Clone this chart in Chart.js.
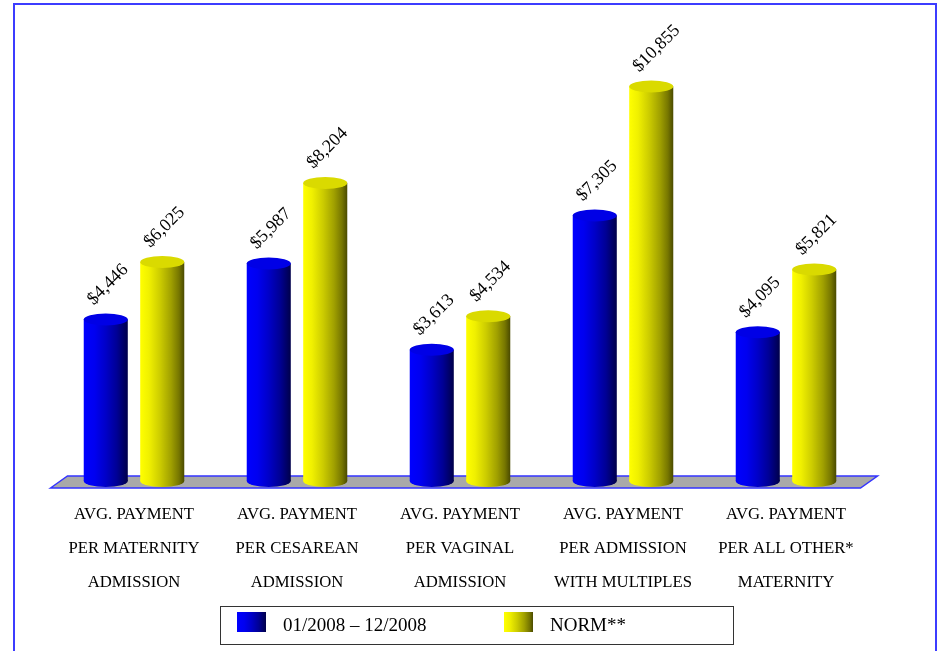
<!DOCTYPE html>
<html>
<head>
<meta charset="utf-8">
<script src="https://cdn.jsdelivr.net/npm/chart.js@4.4.1/dist/chart.umd.min.js"></script>
<style>
  html, body { margin: 0; padding: 0; background: #ffffff; }
  #wrap { width: 942px; height: 651px; position: relative; }
</style>
</head>
<body>
<div id="wrap"><canvas id="c" width="942" height="651"></canvas></div>
<script>
// ---- data ----
const categories = [
  ["AVG. PAYMENT", "PER MATERNITY", "ADMISSION"],
  ["AVG. PAYMENT", "PER CESAREAN", "ADMISSION"],
  ["AVG. PAYMENT", "PER VAGINAL", "ADMISSION"],
  ["AVG. PAYMENT", "PER ADMISSION", "WITH MULTIPLES"],
  ["AVG. PAYMENT", "PER ALL OTHER*", "MATERNITY"]
];
const seriesNames = ["01/2008 \u2013 12/2008", "NORM**"];
const period2008 = [4446, 5987, 3613, 7305, 4095];
const normValues = [6025, 8204, 4534, 10855, 5821];
const valueLabels2008 = ["$4,446", "$5,987", "$3,613", "$7,305", "$4,095"];
const valueLabelsNorm = ["$6,025", "$8,204", "$4,534", "$10,855", "$5,821"];

// ---- styling helpers ----
const SERIF = "'Liberation Serif', 'Times New Roman', serif";
const palettes = [
  { stops: [[0, '#0000ff'], [0.25, '#0000f0'], [0.5, '#0000c8'], [0.75, '#000095'], [1, '#00004a']], top: '#0000e6' },
  { stops: [[0, '#ffff00'], [0.2, '#f0f000'], [0.45, '#cccc00'], [0.7, '#a0a000'], [0.88, '#767600'], [1, '#4a4a00']], top: '#dada00' }
];
function hGrad(ctx, x0, x1, stops) {
  const g = ctx.createLinearGradient(x0, 0, x1, 0);
  stops.forEach(s => g.addColorStop(s[0], s[1]));
  return g;
}

const cylinderPlugin = {
  id: 'cylinders',
  beforeDraw(chart) {
    const ctx = chart.ctx;
    ctx.save();
    ctx.fillStyle = '#ffffff';
    ctx.fillRect(0, 0, chart.width, chart.height);
    // frame
    ctx.strokeStyle = '#3c3cff';
    ctx.lineWidth = 2;
    ctx.strokeRect(14, 4, 922, 660);
    ctx.restore();
  },
  beforeDatasetsDraw(chart) {
    const ctx = chart.ctx;
    const a = chart.chartArea;
    const y0 = chart.scales.y.getPixelForValue(0);
    // floor
    ctx.save();
    ctx.beginPath();
    ctx.moveTo(a.left - 2, y0 + 7);
    ctx.lineTo(a.left + 15, y0 - 5);
    ctx.lineTo(a.right + 10, y0 - 5);
    ctx.lineTo(a.right - 7, y0 + 7);
    ctx.closePath();
    ctx.fillStyle = '#a9a9a9';
    ctx.fill();
    ctx.strokeStyle = '#3333ff';
    ctx.lineWidth = 1.5;
    ctx.stroke();
    ctx.restore();
  },
  afterDatasetsDraw(chart) {
    const ctx = chart.ctx;
    const ry = 6;
    chart.data.datasets.forEach((ds, di) => {
      const meta = chart.getDatasetMeta(di);
      const pal = palettes[di];
      meta.data.forEach((el, i) => {
        const { x, y, base, width } = el.getProps(['x', 'y', 'base', 'width'], true);
        const l = x - width / 2, r = x + width / 2, rx = width / 2;
        const g = hGrad(ctx, l, r, pal.stops);
        ctx.save();
        ctx.fillStyle = g;
        // bottom ellipse
        ctx.beginPath();
        ctx.ellipse(x, base, rx, ry, 0, 0, Math.PI * 2);
        ctx.fill();
        // body
        ctx.fillRect(l, y, width, base - y);
        // top ellipse
        ctx.beginPath();
        ctx.ellipse(x, y, rx, ry, 0, 0, Math.PI * 2);
        ctx.fillStyle = pal.top;
        ctx.fill();
        ctx.restore();
        // value label
        const lbl = di === 0 ? valueLabels2008[i] : valueLabelsNorm[i];
        ctx.save();
        ctx.translate(x - 12, y - 14);
        ctx.rotate(-Math.PI / 4);
        ctx.font = '18px ' + SERIF;
        ctx.fillStyle = '#000000';
        ctx.textAlign = 'left';
        ctx.textBaseline = 'alphabetic';
        ctx.fillText(lbl, 0, 0);
        ctx.restore();
      });
    });
  },
  afterDraw(chart) {
    const ctx = chart.ctx;
    const xs = chart.scales.x;
    // category labels
    ctx.save();
    ctx.font = '16.7px ' + SERIF;
    ctx.fillStyle = '#000000';
    ctx.textAlign = 'center';
    ctx.textBaseline = 'middle';
    categories.forEach((lines, i) => {
      const cx = xs.getPixelForValue(i);
      lines.forEach((t, k) => ctx.fillText(t, cx, 515 + k * 34));
    });
    ctx.restore();
    // legend
    ctx.save();
    ctx.strokeStyle = '#333333';
    ctx.lineWidth = 1;
    ctx.strokeRect(220.5, 606.5, 513, 38);
    const items = [
      { sx: 237, tx: 283 },
      { sx: 504, tx: 550 }
    ];
    items.forEach((it, di) => {
      ctx.fillStyle = hGrad(ctx, it.sx, it.sx + 29, palettes[di].stops);
      ctx.fillRect(it.sx, 612, 29, 20);
      ctx.font = '19px ' + SERIF;
      ctx.fillStyle = '#000000';
      ctx.textAlign = 'left';
      ctx.textBaseline = 'middle';
      ctx.fillText(chart.data.datasets[di].label, it.tx, 626);
    });
    ctx.restore();
  }
};

new Chart(document.getElementById('c'), {
  type: 'bar',
  data: {
    labels: categories,
    datasets: [
      { label: seriesNames[0], data: period2008, backgroundColor: 'rgba(0,0,0,0)', borderWidth: 0 },
      { label: seriesNames[1], data: normValues, backgroundColor: 'rgba(0,0,0,0)', borderWidth: 0 }
    ]
  },
  options: {
    responsive: false,
    animation: false,
    events: [],
    categoryPercentage: 0.693,
    barPercentage: 0.78,
    layout: { padding: { top: 45, bottom: 170, left: 52.5, right: 74.5 } },
    plugins: { legend: { display: false }, tooltip: { enabled: false } },
    scales: {
      x: { display: false, offset: true, grid: { display: false } },
      y: { display: false, min: 0, max: 12000, grid: { display: false } }
    }
  },
  plugins: [cylinderPlugin]
});
</script>
</body>
</html>
